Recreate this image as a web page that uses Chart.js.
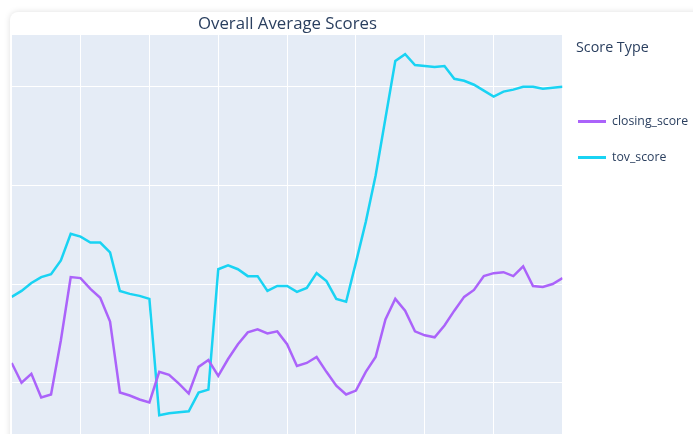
<!DOCTYPE html>
<html>
<head>
<meta charset="utf-8">
<script src="https://cdn.jsdelivr.net/npm/chart.js@4.4.1/dist/chart.umd.min.js"></script>
<style>
  html, body { margin: 0; padding: 0; background: #ffffff; overflow: hidden; }
  #wrap { position: relative; width: 693px; height: 434px; overflow: hidden; }
  #card { position: absolute; left: 10px; top: 12px; width: 720px; height: 480px;
          background: #fff; border-radius: 8px; box-shadow: 0 0 6px rgba(0,0,0,0.13); }
  #c { position: absolute; left: 0; top: 0; }
  #title { position: absolute; left: 12px; width: 551px; top: 11px; text-align: center;
           font-family: "Open Sans", sans-serif; font-size: 16.8px; color: #2a3f5f; white-space: nowrap; }
  #legtitle { position: absolute; left: 576px; top: 37px; font-family: "Open Sans", sans-serif;
              font-size: 14.3px; color: #2a3f5f; white-space: nowrap; }
  .item { position: absolute; left: 578px; height: 16px; font-family: "Open Sans", sans-serif;
          font-size: 12.3px; color: #2a3f5f; white-space: nowrap; }
  .item span.sw { position: absolute; left: 0; top: 7px; width: 28px; height: 3px; }
  .item span.tx { position: absolute; left: 34px; top: -1px; }
</style>
</head>
<body>
<div id="wrap">
  <div id="card"></div>
  <canvas id="c" width="693" height="434"></canvas>
  <div id="title">Overall Average Scores</div>
  <div id="legtitle">Score Type</div>
  <div id="legend"></div>
</div>
<script>
// ---- data ----
const chartTitle = "Overall Average Scores";
const legendTitle = "Score Type";
const seriesNames = ["closing_score", "tov_score"];
const seriesColors = ["#AB63FA", "#19D3F3"];
// 57 consecutive days (index 0..56); weekly grid lines
const dayIndex = Array.from({length: 57}, (_, i) => i);
const xTicks = [0, 7, 14, 21, 28, 35, 42, 49, 56];
const yTicks = [60, 70, 80, 90];

const closingScore = [
  62.0, 60.0, 60.9, 58.5, 58.8, 64.3, 70.7, 70.6, 69.5, 68.6,
  66.2, 59.0, 58.7, 58.3, 58.0, 61.1, 60.8, 59.9, 58.9, 61.6,
  62.3, 60.7, 62.4, 63.9, 65.1, 65.4, 65.0, 65.2, 63.9, 61.7,
  62.0, 62.6, 61.1, 59.7, 58.8, 59.2, 61.1, 62.6, 66.4, 68.5,
  67.3, 65.2, 64.8, 64.6, 65.8, 67.3, 68.7, 69.4, 70.8, 71.1,
  71.2, 70.8, 71.8, 69.8, 69.7, 70.0, 70.6
];
const tovScore = [
  68.7, 69.3, 70.1, 70.7, 71.0, 72.4, 75.1, 74.8, 74.2, 74.2,
  73.2, 69.3, 69.0, 68.8, 68.5, 56.7, 56.9, 57.0, 57.1, 59.0,
  59.3, 71.5, 71.9, 71.5, 70.8, 70.8, 69.3, 69.8, 69.8, 69.2,
  69.6, 71.1, 70.3, 68.5, 68.2, 72.2, 76.3, 81.0, 86.8, 92.6,
  93.3, 92.2, 92.1, 92.0, 92.1, 90.8, 90.6, 90.2, 89.6, 89.0,
  89.5, 89.7, 90.0, 90.0, 89.8, 89.9, 90.0
];
const seriesValues = [closingScore, tovScore];

// ---- html texts ----
document.getElementById('title').textContent = chartTitle;
document.getElementById('legtitle').textContent = legendTitle;
const leg = document.getElementById('legend');
const legendTops = [113, 149];
seriesNames.forEach((n, k) => {
  const d = document.createElement('div');
  d.className = 'item';
  d.style.top = legendTops[k] + 'px';
  d.innerHTML = '<span class="sw" style="background:' + seriesColors[k] + '"></span><span class="tx"></span>';
  d.querySelector('.tx').textContent = n;
  leg.appendChild(d);
});

const plotBg = {
  id: 'plotBg',
  beforeDraw(chart) {
    const a = chart.chartArea, ctx = chart.ctx;
    ctx.save();
    ctx.fillStyle = '#E5ECF6';
    ctx.fillRect(a.left, a.top, a.right - a.left, a.bottom - a.top);
    ctx.restore();
  }
};

new Chart(document.getElementById('c'), {
  type: 'line',
  data: {
    datasets: seriesNames.map((n, k) => ({
      label: n,
      data: dayIndex.map((x, i) => ({x: x, y: seriesValues[k][i]})),
      borderColor: seriesColors[k],
      backgroundColor: seriesColors[k],
      borderWidth: 2.5,
      pointRadius: 0,
      tension: 0,
      fill: false
    }))
  },
  options: {
    responsive: false,
    animation: false,
    layout: { padding: { left: 11.7, top: 35, right: 130.5, bottom: 0 } },
    plugins: { legend: { display: false }, title: { display: false }, tooltip: { enabled: false } },
    scales: {
      x: {
        type: 'linear', min: 0, max: 56,
        afterBuildTicks: s => { s.ticks = xTicks.map(v => ({value: v})); },
        ticks: { display: false },
        grid: { color: '#ffffff', lineWidth: 1, drawTicks: false },
        border: { display: false }
      },
      y: {
        type: 'linear', min: 54.8, max: 95.24,
        afterBuildTicks: s => { s.ticks = yTicks.map(v => ({value: v})); },
        ticks: { display: false },
        grid: { color: '#ffffff', lineWidth: 1, drawTicks: false },
        border: { display: false }
      }
    }
  },
  plugins: [plotBg]
});
</script>
</body>
</html>
